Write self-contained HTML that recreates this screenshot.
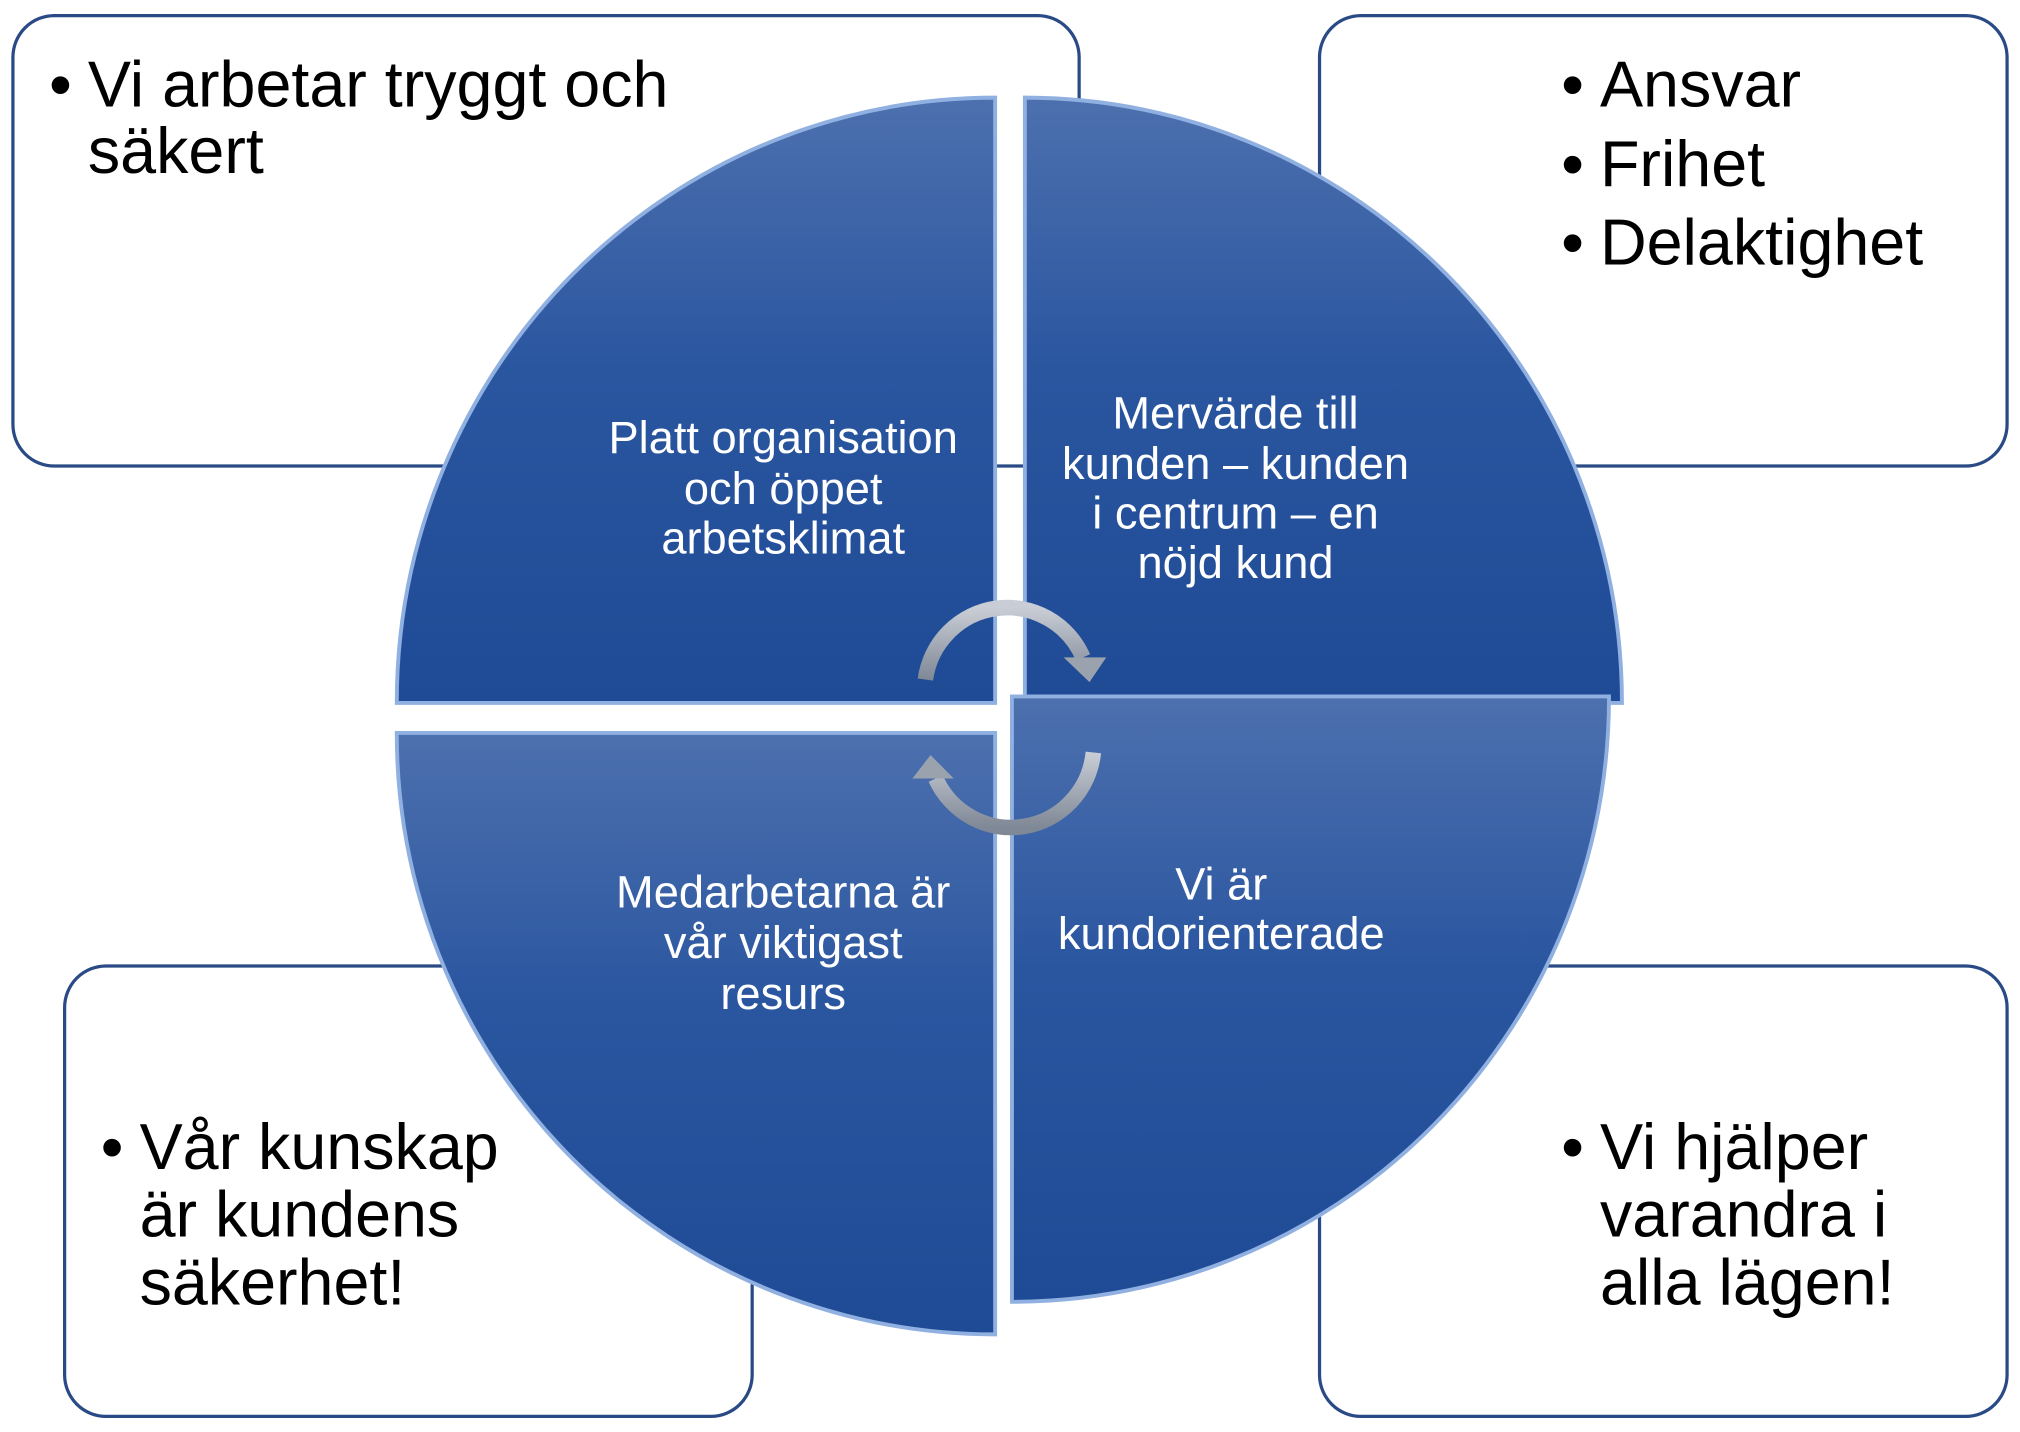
<!DOCTYPE html>
<html><head><meta charset="utf-8"><style>
html,body{margin:0;padding:0;background:#fff;}
svg{display:block;}
.b{font-family:"Liberation Sans",sans-serif;font-size:50px;fill:#000;}
.w{font-family:"Liberation Sans",sans-serif;font-size:35px;fill:#fff;text-anchor:middle;}
</style></head><body>
<svg width="2020" height="1432" viewBox="0 0 1563 1100" preserveAspectRatio="none" xmlns="http://www.w3.org/2000/svg">
<defs>
<linearGradient id="g" x1="0" y1="0" x2="0" y2="1">
<stop offset="0" stop-color="#4d70ae"/><stop offset="0.45" stop-color="#2a56a0"/><stop offset="1" stop-color="#1f4b96"/>
</linearGradient>
<linearGradient id="ar" x1="0" y1="0" x2="0" y2="1">
<stop offset="0" stop-color="#c9ced6"/><stop offset="1" stop-color="#7f8896"/>
</linearGradient>
</defs>
<g fill="#fff" stroke="#2a4a86" stroke-width="2.5">
<rect x="10" y="12" width="825" height="346" rx="32"/>
<rect x="1021" y="12" width="532" height="346" rx="32"/>
<rect x="50" y="742" width="532" height="346" rx="32"/>
<rect x="1021" y="742" width="532" height="346" rx="32"/>
</g>
<g stroke="#8fb0e0" stroke-width="3" fill="url(#g)">
<path d="M770,540 L307,540 A463,465 0 0 1 770,75 Z"/>
<path d="M793,540 L793,75 A462,465 0 0 1 1255,540 Z"/>
<path d="M783,535 L1245,535 A462,465 0 0 1 783,1000 Z"/>
<path d="M770,563 L770,1025 A463,462 0 0 1 307,563 Z"/>
</g>
<g fill="none" stroke="url(#ar)" stroke-width="12">
<path d="M716,522 A64,64 0 0 1 838,505"/>
<path d="M846,578 A64,64 0 0 1 724,598"/>
</g>
<polygon points="823,505 856,505 843,524" fill="#9aa2ae"/>
<polygon points="738,598 706,598 720,580" fill="#9aa2ae"/>
<text class="b" x="38" y="82">•</text><text class="b" x="68" y="82">Vi arbetar tryggt och</text>
<text class="b" x="68" y="133">säkert</text>
<text class="b" x="1208" y="82">•</text><text class="b" x="1238" y="82">Ansvar</text>
<text class="b" x="1208" y="143">•</text><text class="b" x="1238" y="143">Frihet</text>
<text class="b" x="1208" y="203">•</text><text class="b" x="1238" y="203">Delaktighet</text>
<text class="b" x="78" y="898">•</text><text class="b" x="108" y="898">Vår kunskap</text>
<text class="b" x="108" y="950">är kundens</text>
<text class="b" x="108" y="1002">säkerhet!</text>
<text class="b" x="1208" y="898">•</text><text class="b" x="1238" y="898">Vi hjälper</text>
<text class="b" x="1238" y="950">varandra i</text>
<text class="b" x="1238" y="1002">alla lägen!</text>
<text class="w" x="606" y="348">Platt organisation</text>
<text class="w" x="606" y="387">och öppet</text>
<text class="w" x="606" y="425">arbetsklimat</text>
<text class="w" x="956" y="329">Mervärde till</text>
<text class="w" x="956" y="368">kunden – kunden</text>
<text class="w" x="956" y="406">i centrum – en</text>
<text class="w" x="956" y="444">nöjd kund</text>
<text class="w" x="606" y="697">Medarbetarna är</text>
<text class="w" x="606" y="736">vår viktigast</text>
<text class="w" x="606" y="775">resurs</text>
<text class="w" x="945" y="691">Vi är</text>
<text class="w" x="945" y="729">kundorienterade</text>
</svg>
</body></html>
